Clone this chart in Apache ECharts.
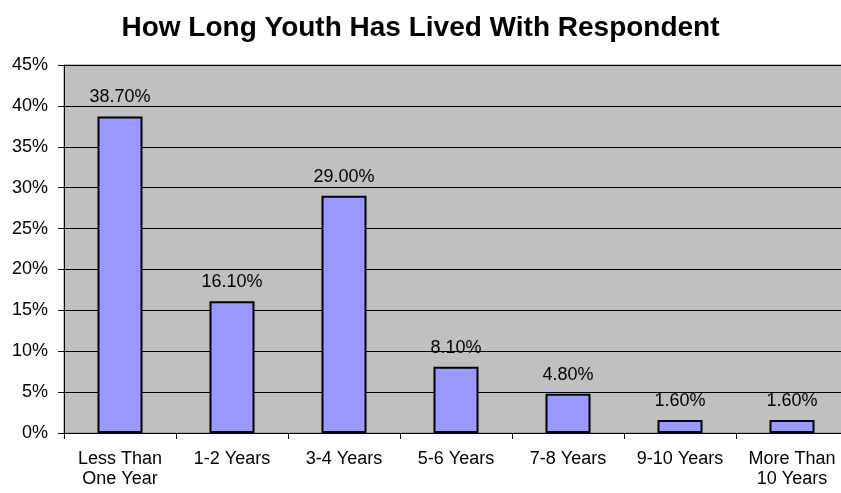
<!DOCTYPE html>
<html><head><meta charset="utf-8">
<script src="https://cdn.jsdelivr.net/npm/echarts@6/dist/echarts.min.js"></script>
<style>html,body{margin:0;padding:0;background:#fff;overflow:hidden}#c{width:841px;height:493px}</style>
</head><body><div id="c"></div>
<script>
var categories = ['Less Than\nOne Year', '1-2 Years', '3-4 Years', '5-6 Years', '7-8 Years', '9-10 Years', 'More Than\n10 Years'];
var values = [38.7, 16.1, 29.0, 8.1, 4.8, 1.6, 1.6];
var yTicks = [0, 45, 5]; // min, max, step (percent)
var chart = echarts.init(document.getElementById('c'));
chart.setOption({
  animation: false,
  title: { text: 'How Long Youth Has Lived With Respondent', left: 'center', top: 9,
    textStyle: { fontFamily: 'Liberation Sans, Arial', fontSize: 28, fontWeight: 'bold', color: '#000' } },
  grid: { left: 64, width: 784, top: 65, bottom: 60, outerBoundsMode: 'none', containLabel: false,
    show: true, backgroundColor: '#c0c0c0', borderColor: '#808080', borderWidth: 1 },
  xAxis: { type: 'category', data: categories,
    axisLine: { lineStyle: { color: '#000', width: 1 } },
    axisTick: { show: true, length: 6, lineStyle: { color: '#000' } },
    axisLabel: { fontFamily: 'Liberation Sans, Arial', fontSize: 18, color: '#000', margin: 16, lineHeight: 20, interval: 0 } },
  yAxis: { type: 'value', min: yTicks[0], max: yTicks[1], interval: yTicks[2],
    axisLine: { show: true, lineStyle: { color: '#000', width: 1 } },
    axisTick: { show: true, length: 6, lineStyle: { color: '#000' } },
    splitLine: { lineStyle: { color: '#000', width: 1 } },
    axisLabel: { formatter: '{value}%', fontFamily: 'Liberation Sans, Arial', fontSize: 18, color: '#000', margin: 16 } },
  series: [{ type: 'bar', data: values, barWidth: 45,
    itemStyle: { color: '#9999ff', borderColor: '#000', borderWidth: 2 },
    label: { show: true, position: 'top', distance: 10, formatter: function(p){ return p.value.toFixed(2) + '%'; },
      fontFamily: 'Liberation Sans, Arial', fontSize: 18, color: '#000' } }]
});
</script></body></html>
